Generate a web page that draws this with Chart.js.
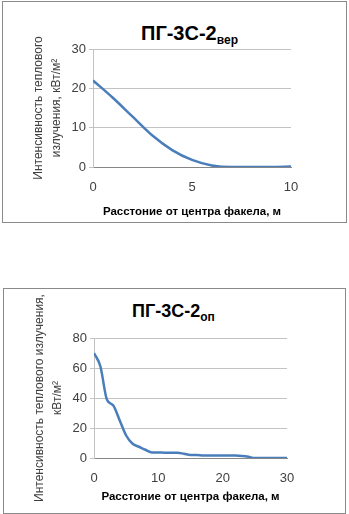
<!DOCTYPE html>
<html>
<head>
<meta charset="utf-8">
<script src="https://cdn.jsdelivr.net/npm/chart.js@4"></script>
<style>
  body{margin:0;background:#fff;width:349px;height:514px;position:relative;overflow:hidden;font-family:"Liberation Sans",Arial,sans-serif}
  .box{position:absolute;border:1px solid #8a8a8a;box-sizing:border-box}
  .ttl{position:absolute;font-weight:bold;color:#000;white-space:nowrap;line-height:1}
  .ttl span{font-size:12px;position:relative;top:4px}
  canvas{position:absolute;left:0}
</style>
</head>
<body>
<div class="box" style="left:2px;top:1px;width:345px;height:222px"></div>
<div class="box" style="left:3px;top:288px;width:343px;height:226px"></div>
<div class="ttl" style="left:141px;top:23px;font-size:20px">ПГ-3С-2<span>вер</span></div>
<div class="ttl" style="left:132px;top:302px;font-size:18px">ПГ-3С-2<span>оп</span></div>
<div style="position:absolute;left:0;top:0;width:349px;height:222px"><canvas id="c1"></canvas></div>
<div style="position:absolute;left:0;top:286px;width:349px;height:228px"><canvas id="c2"></canvas></div>
<script>
// расстояние, м / интенсивность, кВт/м2
const dist1 = [0, 1, 2, 3, 4, 5, 6, 7, 8, 9, 10];
const heat1 = [22, 17.6, 12.8, 8.0, 4.3, 1.8, 0.4, 0, 0, 0, 0.1];
const dist2 = [0,1,2,3,4,5,6,7,8,9,10,11,12,13,14,15,16,17,18,19,20,21,22,23,24,25,26,27,28,29,30];
const heat2 = [70,61,39,35,25,15,9.5,7.5,5.5,3.7,3.7,3.5,3.5,3.5,2.8,2,2,1.7,1.7,1.7,1.7,1.7,1.6,1.3,0.8,0,0,0,0,0,0];
const xTicks1 = [0, 5, 10], yTicks1 = [0, 10, 20, 30];
const xTicks2 = [0, 10, 20, 30], yTicks2 = [0, 20, 40, 60, 80];

const yTitle1 = ['Интенсивность теплового', 'излучения, кВт/м²'];
const yTitle2 = ['Интенсивность теплового излучения,', 'кВт/м²'];
const xTitle = 'Расстоние от центра факела, м';

const FONT = '"Liberation Sans", Arial, sans-serif';

function makeChart(id, xs, ys, xTicks, yTicks, yTitle, g){
  const ctx = document.getElementById(id);
  return new Chart(ctx, {
    type: 'line',
    data: {datasets: [{
      data: xs.map((x, i) => ({x, y: ys[i]})),
      borderColor: '#4a7ebb', borderWidth: 2.5, pointRadius: 0,
      tension: 0.4, cubicInterpolationMode: 'monotone', fill: false
    }]},
    options: {
      responsive: true, maintainAspectRatio: false, animation: false,
      layout: {padding: {left: 0, top: g.top, right: g.right, bottom: 0}},
      plugins: {legend: {display: false}, tooltip: {enabled: false}},
      scales: {
        x: {
          type: 'linear', min: xTicks[0], max: xTicks[xTicks.length-1],
          afterBuildTicks: s => { s.ticks = xTicks.map(v => ({value: v})); },
          afterFit: s => { s.height = g.xh; },
          grid: {display: false, drawTicks: false},
          border: {display: true, color: '#868686', width: 1},
          ticks: {padding: g.xpad, color: '#404040', font: {family: FONT, size: 13}, maxRotation: 0},
          title: {display: true, text: xTitle, color: '#000', padding: {top: 0, bottom: g.xtp},
                  font: {family: FONT, size: 11.5, weight: 'bold', lineHeight: 1.2}}
        },
        y: {
          min: yTicks[0], max: yTicks[yTicks.length-1],
          afterBuildTicks: s => { s.ticks = yTicks.map(v => ({value: v})); },
          afterFit: s => { s.width = g.yw; },
          grid: {color: '#c3c3c3', tickLength: 4, drawTicks: true},
          border: {display: true, color: '#c3c3c3'},
          ticks: {padding: 3, color: '#404040', font: {family: FONT, size: 13}},
          title: {display: true, text: yTitle, color: '#404040', padding: {top: g.ytp, bottom: 0},
                  font: {family: FONT, size: 12, lineHeight: 1.55}}
        }
      }
    }
  });
}

makeChart('c1', dist1, heat1, xTicks1, yTicks1, yTitle1,
  {top: 49, right: 58, xh: 55, xpad: 13, xtp: 3, yw: 93, ytp: 29});
makeChart('c2', dist2, heat2, xTicks2, yTicks2, yTitle2,
  {top: 52, right: 62, xh: 56, xpad: 13, xtp: 10, yw: 94, ytp: 30});
</script>
</body>
</html>
